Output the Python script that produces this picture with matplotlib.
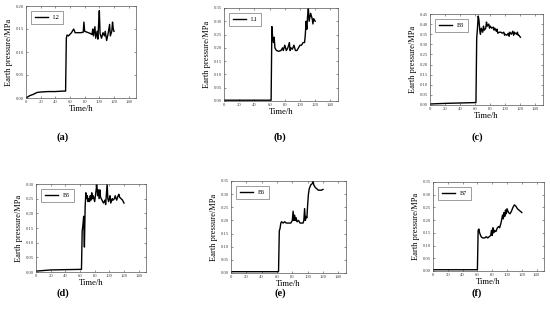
import matplotlib
matplotlib.use("Agg")
import matplotlib.pyplot as plt

plt.rcParams['font.family'] = ['Liberation Serif', 'DejaVu Serif']

# ---- data (time in h, earth pressure in MPa) ----
t_l2 = [0, 5, 10, 15, 20, 30, 40, 50, 54, 55, 56, 58, 62, 65, 67, 70, 75, 78, 79, 80, 85, 88, 90, 91,
        92, 94, 95, 97, 98, 99, 100, 101, 103, 105, 107, 108, 110, 112, 114, 115, 117, 118, 119, 120]
p_l2 = [0.0, 0.005, 0.008, 0.012, 0.013, 0.014, 0.014, 0.015, 0.015, 0.13, 0.137, 0.135, 0.142, 0.15,
        0.142, 0.142, 0.142, 0.143, 0.165, 0.145, 0.142, 0.140, 0.138, 0.15, 0.135, 0.155, 0.13, 0.145,
        0.128, 0.16, 0.19, 0.14, 0.13, 0.142, 0.135, 0.145, 0.125, 0.14, 0.16, 0.135, 0.145, 0.165, 0.15, 0.145]

t_l1 = [0, 62, 63, 64, 65, 66, 67, 69, 72, 75, 77, 78, 80, 82, 84, 86, 87, 88, 90, 92, 94, 96, 98, 100,
        102, 104, 106, 107, 108, 109, 110, 111, 112, 114, 116, 117, 118, 120]
p_l1 = [0.003, 0.003, 0.28, 0.24, 0.22, 0.24, 0.20, 0.19, 0.187, 0.19, 0.20, 0.19, 0.21, 0.19, 0.20, 0.22,
        0.19, 0.20, 0.195, 0.21, 0.19, 0.19, 0.20, 0.21, 0.21, 0.22, 0.22, 0.25, 0.30, 0.27, 0.32, 0.35,
        0.30, 0.33, 0.31, 0.29, 0.31, 0.30]

t_b3 = [0, 20, 40, 61, 62, 63, 64, 65, 66, 67, 68, 70, 71, 72, 74, 75, 76, 78, 79, 80, 82, 84, 85, 86,
        88, 89, 90, 92, 94, 96, 98, 99, 100, 102, 104, 105, 106, 108, 110, 111, 112, 113, 115, 116, 117, 118, 120]
p_b3 = [0.005, 0.008, 0.01, 0.012, 0.33, 0.38, 0.44, 0.42, 0.37, 0.35, 0.38, 0.36, 0.39, 0.37, 0.38, 0.41,
        0.39, 0.40, 0.38, 0.39, 0.38, 0.385, 0.37, 0.38, 0.365, 0.375, 0.355, 0.36, 0.36, 0.355, 0.36, 0.345,
        0.35, 0.345, 0.355, 0.34, 0.36, 0.35, 0.365, 0.345, 0.36, 0.355, 0.35, 0.36, 0.345, 0.345, 0.335]

t_b5 = [0, 10, 20, 40, 62, 63, 64, 65, 66, 67, 68, 69, 70, 71, 72, 73, 74, 75, 76, 77, 78, 80, 83, 84,
        85, 86, 87, 88, 90, 92, 94, 95, 97, 98, 99, 100, 101, 102, 104, 105, 107, 108, 110, 112, 113,
        114, 116, 118, 120]
p_b5 = [0.003, 0.005, 0.007, 0.008, 0.009, 0.14, 0.16, 0.19, 0.085, 0.22, 0.27, 0.25, 0.26, 0.24, 0.25,
        0.24, 0.26, 0.245, 0.27, 0.25, 0.26, 0.24, 0.30, 0.26, 0.28, 0.25, 0.28, 0.255, 0.245, 0.235, 0.245,
        0.23, 0.30, 0.25, 0.24, 0.25, 0.26, 0.235, 0.25, 0.245, 0.25, 0.26, 0.245, 0.26, 0.265, 0.255,
        0.25, 0.245, 0.235]

t_b6 = [0, 62, 63, 64, 65, 66, 68, 70, 72, 75, 78, 79, 80, 81, 82, 83, 84, 85, 86, 88, 90, 92, 94, 95,
        96, 97, 98, 99, 100, 101, 102, 104, 106, 107, 108, 110, 112, 114, 116, 118, 120]
p_b6 = [0.005, 0.005, 0.16, 0.17, 0.19, 0.195, 0.19, 0.195, 0.19, 0.19, 0.19, 0.195, 0.20, 0.235, 0.20,
        0.22, 0.20, 0.21, 0.195, 0.20, 0.19, 0.19, 0.19, 0.20, 0.245, 0.20, 0.215, 0.21, 0.26, 0.30, 0.32,
        0.335, 0.34, 0.35, 0.335, 0.325, 0.32, 0.315, 0.315, 0.315, 0.318]

t_b7 = [0, 60, 61, 62, 63, 65, 67, 70, 72, 74, 76, 78, 79, 80, 81, 82, 83, 85, 87, 89, 90, 92, 94, 95,
        96, 97, 98, 99, 100, 102, 104, 106, 108, 110, 112, 114, 116, 118, 120]
p_b7 = [0.005, 0.005, 0.16, 0.165, 0.15, 0.135, 0.13, 0.13, 0.135, 0.13, 0.135, 0.14, 0.16, 0.14, 0.17,
        0.15, 0.16, 0.155, 0.17, 0.175, 0.17, 0.19, 0.22, 0.205, 0.23, 0.215, 0.24, 0.225, 0.245, 0.23,
        0.225, 0.235, 0.25, 0.26, 0.255, 0.245, 0.24, 0.235, 0.23]

names = ["L2", "L1", "B3", "B5", "B6", "B7"]
letters = ["(a)", "(b)", "(c)", "(d)", "(e)", "(f)"]
times = [t_l2, t_l1, t_b3, t_b5, t_b6, t_b7]
values = [p_l2, p_l1, p_b3, p_b5, p_b6, p_b7]
ymax = [0.20, 0.35, 0.45, 0.30, 0.35, 0.35]

# axes boxes in pixels: left, top, right, bottom
W, H = 550, 325
boxes = [(26, 6, 136, 98), (224, 8, 338, 101), (430, 14, 543, 105),
         (36, 184, 146, 272), (231, 181, 346, 273), (433, 182, 544, 271)]
letter_pos = [(63, 137), (280, 137), (477, 137), (63, 293), (280, 293), (477, 293)]

fig = plt.figure(figsize=(5.5, 3.25), dpi=100)

for i in range(6):
    l, t, r, b = boxes[i]
    ax = fig.add_axes([l / W, 1 - b / H, (r - l) / W, (b - t) / H])
    ax.plot(times[i], values[i], color='black', lw=1.0, label=names[i])
    ax.set_xlim(0, 150)
    ax.set_ylim(0, ymax[i])
    ax.set_xticks(range(0, 141, 20))
    ax.set_yticks([k * 0.05 for k in range(int(round(ymax[i] / 0.05)) + 1)])
    ax.yaxis.set_major_formatter(matplotlib.ticker.FormatStrFormatter('%.2f'))
    ax.tick_params(direction='in', top=True, right=True, labelsize=3.4, length=1.5,
                   width=0.4, pad=1.5, colors='#444444')
    for s in ax.spines.values():
        s.set_linewidth(0.5)
        s.set_color('#555555')
    ax.set_xlabel("Time/h", fontsize=6.2, labelpad=1)
    ax.set_ylabel("Earth pressure/MPa", fontsize=6, labelpad=2)
    leg = ax.legend(loc='upper left', fontsize=4.4, handlelength=2.2, fancybox=False,
                    borderpad=0.6, borderaxespad=0.8, handletextpad=0.8)
    leg.get_frame().set_edgecolor('#555555')
    leg.get_frame().set_linewidth(0.5)
    fig.text(letter_pos[i][0] / W, 1 - letter_pos[i][1] / H, letters[i],
             ha='center', va='center', fontsize=7.5, fontweight='bold')

fig.savefig("out.png", dpi=100)
